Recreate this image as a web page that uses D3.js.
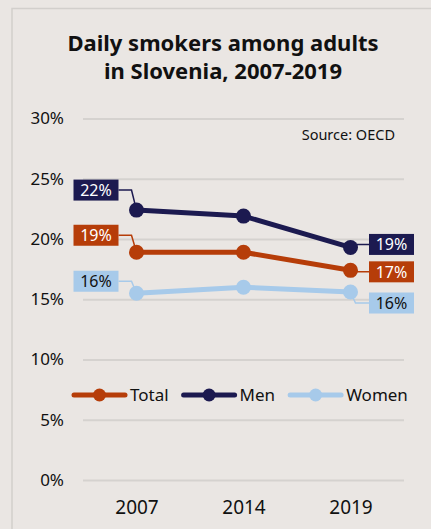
<!DOCTYPE html>
<html>
<head>
<meta charset="utf-8">
<script src="https://cdn.jsdelivr.net/npm/d3@7"></script>
<style>
  html, body { margin: 0; padding: 0; background: #EAE6E3; }
  svg { display: block; }
  text { font-family: "Noto Sans", sans-serif; fill: #111; }
</style>
</head>
<body>
<svg id="chart" width="431" height="529"></svg>
<script>
// Daily smokers among adults in Slovenia (% of adults)
const years = ["2007", "2014", "2019"];
const total = [0.189, 0.189, 0.174];
const men = [0.224, 0.219, 0.193];
const women = [0.155, 0.160, 0.156];
const yTicks = [0, 0.05, 0.10, 0.15, 0.20, 0.25, 0.30];
const seriesNames = ["Total", "Men", "Women"];
const titleLines = ["Daily smokers among adults", "in Slovenia, 2007-2019"];
const sourceText = "Source: OECD";

const colors = { Total: "#B63D09", Men: "#1C1A50", Women: "#A7CAEA" };
const labelText = { Total: "#fff", Men: "#fff", Women: "#111" };
// vertical shift of the first / last value boxes relative to their point
const labelShift = {
  Total: { first: -17, last: 1.5 },
  Men:   { first: -20, last: -3 },
  Women: { first: -12, last: 11 }
};

const series = [
  { name: "Total", values: total },
  { name: "Men", values: men },
  { name: "Women", values: women }
];

const svg = d3.select("#chart");

// panel frame
svg.append("rect")
  .attr("x", 12).attr("y", 8.5).attr("width", 440).attr("height", 540)
  .attr("fill", "#EAE6E3").attr("stroke", "#D2CFCC").attr("stroke-width", 1.5);

// title
svg.append("text")
  .attr("x", 223).attr("y", 51)
  .attr("text-anchor", "middle")
  .style("font-size", "22px").style("font-weight", "bold")
  .selectAll("tspan").data(titleLines).join("tspan")
  .attr("x", 223).attr("dy", (d, i) => i === 0 ? 0 : 28)
  .text(d => d);

const x = d3.scalePoint().domain(years).range([83, 404]).padding(0.5);
const y = d3.scaleLinear().domain([0, 0.30]).range([480, 118.5]);

// gridlines + y labels
const yAxis = d3.axisLeft(y).tickValues(yTicks).tickFormat(d3.format(".0%"))
  .tickSize(-(404 - 83)).tickPadding(19);
const gy = svg.append("g").attr("transform", "translate(83,0)").call(yAxis);
gy.select(".domain").remove();
gy.selectAll(".tick line").attr("stroke", "#D5D2CF").attr("stroke-width", 2);
gy.selectAll(".tick text").style("font-size", "17px").attr("fill", "#111")
  .attr("font-family", null);

// x labels
const xAxis = d3.axisBottom(x).tickSize(0).tickPadding(0);
const gx = svg.append("g").attr("transform", "translate(0,514)").call(xAxis);
gx.select(".domain").remove();
gx.selectAll(".tick text").attr("dy", 0).style("font-size", "19px").attr("fill", "#111")
  .attr("font-family", null);

// source note
svg.append("text")
  .attr("x", 395).attr("y", 140).attr("text-anchor", "end")
  .style("font-size", "14.5px").text(sourceText);

// lines and points
const line = d3.line().x((d, i) => x(years[i])).y(d => y(d));
const fmt = d3.format(".0%");

series.forEach(s => {
  const c = colors[s.name];
  const g = svg.append("g");
  g.append("path").datum(s.values)
    .attr("d", line).attr("fill", "none")
    .attr("stroke", c).attr("stroke-width", 5).attr("stroke-linejoin", "round");

  // value boxes at both ends, joined to their points by a leader line
  const ends = [
    { i: 0, side: "first" },
    { i: s.values.length - 1, side: "last" }
  ];
  ends.forEach(e => {
    const px = x(years[e.i]), py = y(s.values[e.i]);
    const cy = py + labelShift[s.name][e.side];
    const w = 45, h = 21;
    let bx, pts;
    if (e.side === "first") {
      bx = px - 18 - w;
      pts = [[bx + w, cy], [px - 5, cy], [px, py]];
    } else {
      bx = px + 18.5;
      pts = [[px, py], [px + 5, cy], [bx, cy]];
    }
    g.append("path").attr("d", d3.line()(pts)).attr("fill", "none")
      .attr("stroke", c).attr("stroke-width", 1.5);
    g.append("rect").attr("x", bx).attr("y", cy - h / 2)
      .attr("width", w).attr("height", h).attr("fill", c);
    g.append("text").attr("x", bx + w / 2).attr("y", cy + 6)
      .attr("text-anchor", "middle").style("font-size", "16px")
      .style("fill", labelText[s.name]).text(fmt(s.values[e.i]));
  });

  g.selectAll("circle").data(s.values).join("circle")
    .attr("cx", (d, i) => x(years[i])).attr("cy", d => y(d))
    .attr("r", 7.5).attr("fill", c);
});

// legend
const legend = svg.append("g").attr("transform", "translate(0,395)");
let lx = 72;
seriesNames.forEach(name => {
  const c = colors[name];
  const item = legend.append("g").attr("transform", `translate(${lx},0)`);
  item.append("line").attr("x1", 2).attr("x2", 53).attr("y1", 0).attr("y2", 0)
    .attr("stroke", c).attr("stroke-width", 5).attr("stroke-linecap", "round");
  item.append("circle").attr("cx", 27.5).attr("cy", 0).attr("r", 6.5).attr("fill", c);
  const t = item.append("text").attr("x", 58).attr("y", 6)
    .style("font-size", "17px").text(name);
  lx += 58 + t.node().getComputedTextLength() + 13;
});
</script>
</body>
</html>
